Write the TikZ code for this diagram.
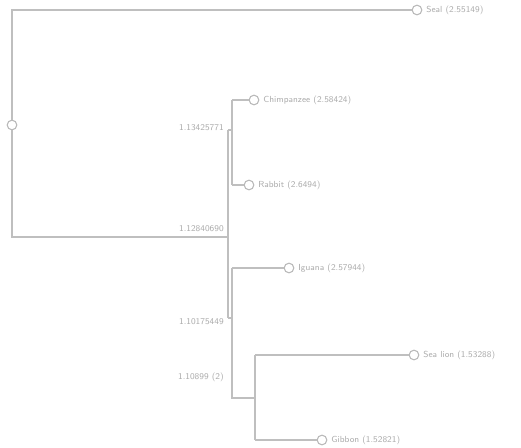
\documentclass[tikz,border=0pt]{standalone}
\usetikzlibrary{positioning}
\begin{document}
\begin{tikzpicture}[x=0.02cm, y=-0.02cm, line width=0.6pt,
    leaf/.style={circle, draw=gray!55, fill=white, inner sep=0pt, minimum size=5.5pt},
    branch/.style={draw=gray!50},
    txt/.style={text=gray!65, font=\sffamily\fontsize{5}{6}\selectfont, inner sep=1pt}]
    \useasboundingbox (0,0) rectangle (521,447);

    % Knoten der Wurzel und der inneren Verzweigungen
    \node[leaf] (root) at (12,125) {};
    \coordinate (rtop) at (12,10);
    \coordinate (rbot) at (12,237);
    \coordinate (a) at (228,237);
    \coordinate (atop) at (228,130);
    \coordinate (abot) at (228,318);
    \coordinate (b) at (232,130);
    \coordinate (btop) at (232,100);
    \coordinate (bbot) at (232,185);
    \coordinate (c) at (232,318);
    \coordinate (ctop) at (232,268);
    \coordinate (cbot) at (232,398);
    \coordinate (d) at (255,398);
    \coordinate (dtop) at (255,355);
    \coordinate (dbot) at (255,440);

    % Blaetter
    \node[leaf] (seal) at (417,10) {};
    \node[leaf] (chimp) at (254,100) {};
    \node[leaf] (rabbit) at (249,185) {};
    \node[leaf] (iguana) at (289,268) {};
    \node[leaf] (sealion) at (414,355) {};
    \node[leaf] (gibbon) at (322,440) {};

    % Kanten
    \draw[branch] (root) -- (rtop) -- (seal);
    \draw[branch] (root) -- (rbot) -- (a);
    \draw[branch] (atop) -- (abot);
    \draw[branch] (atop) -- (b);
    \draw[branch] (abot) -- (c);
    \draw[branch] (btop) -- (bbot);
    \draw[branch] (btop) -- (chimp);
    \draw[branch] (bbot) -- (rabbit);
    \draw[branch] (ctop) -- (cbot) -- (d);
    \draw[branch] (ctop) -- (iguana);
    \draw[branch] (dtop) -- (dbot);
    \draw[branch] (dtop) -- (sealion);
    \draw[branch] (dbot) -- (gibbon);

    % Beschriftungen
    \node[txt, right=1pt of seal] {Seal (2.55149)};
    \node[txt, right=1pt of chimp] {Chimpanzee (2.58424)};
    \node[txt, right=1pt of rabbit] {Rabbit (2.6494)};
    \node[txt, right=1pt of iguana] {Iguana (2.57944)};
    \node[txt, right=1pt of sealion] {Sea lion (1.53288)};
    \node[txt, right=1pt of gibbon] {Gibbon (1.52821)};
    \node[txt, anchor=south east] at (226,234) {1.12840690};
    \node[txt, anchor=east] at (226,128) {1.13425771};
    \node[txt, anchor=east] at (226,322) {1.10175449};
    \node[txt, anchor=east] at (226,377) {1.10899 (2)};
\end{tikzpicture}
\end{document}
